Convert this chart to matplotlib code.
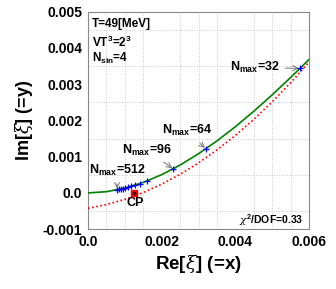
import numpy as np
import matplotlib
matplotlib.use('Agg')
import matplotlib.pyplot as plt

plt.rcParams['font.family'] = ['Liberation Sans', 'DejaVu Sans']
plt.rcParams['mathtext.fontset'] = 'custom'
plt.rcParams['mathtext.rm'] = 'Liberation Sans:bold'
plt.rcParams['mathtext.bf'] = 'Liberation Sans:bold'
plt.rcParams['mathtext.it'] = 'DejaVu Serif:italic'

#fit curve (green)
fit_x = [0.0, 0.0005, 0.001, 0.0015, 0.002, 0.0025, 0.003,
         0.0035, 0.004, 0.0045, 0.005, 0.0055, 0.006]
fit_y = [0.0, 0.000034, 0.000132, 0.00029, 0.000504, 0.000769, 0.001081,
         0.001435, 0.001827, 0.002252, 0.002706, 0.003184, 0.003682]

#second curve (red dotted)
red_y = [-0.000425, -0.000322, -0.000177, 0.0000105, 0.000241, 0.000513, 0.000828,
         0.001186, 0.001585, 0.002028, 0.002513, 0.00304, 0.003609]

#data points (blue +)
pts_x = [0.000787, 0.000842, 0.000896, 0.00095, 0.001005, 0.001086, 0.001167,
         0.001276, 0.001412, 0.001602, 0.002316, 0.003195, 0.005756]
pts_y = [0.0000825, 0.0000943, 0.000106, 0.000119, 0.000133, 0.000155, 0.000178,
         0.000212, 0.000258, 0.00033, 0.000658, 0.001214, 0.003436]

#critical point
cp_x = 0.00126
cp_y = 0.00001
cp_xerr = 0.00009

labels = ['512', '96', '64', '32']
label_idx = [0, 10, 11, 12]

fig = plt.figure(figsize=(3.36, 2.89), dpi=100)
ax = fig.add_axes([0.262, 0.207, 0.658, 0.753])

ax.plot(fit_x, fit_y, color='#008000', lw=1.2, zorder=3)
ax.plot(fit_x, red_y, color='red', lw=1.2, ls=(0, (1, 1.5)), zorder=3)
ax.plot(pts_x, pts_y, '+', color='blue', ms=5, mew=0.9, zorder=4)
ax.errorbar([cp_x], [cp_y], xerr=[cp_xerr], fmt='s', color='red', ms=4, elinewidth=0.8, capsize=0, zorder=5)
ax.plot([cp_x], [cp_y], 'o', color='#400000', ms=1.8, zorder=6)

ax.set_xlim(0, 0.006)
ax.set_ylim(-0.001, 0.005)
ax.set_xticks([0.0, 0.002, 0.004, 0.006])
ax.set_xticklabels(['0.0', '0.002', '0.004', '0.006'])
ax.set_yticks([-0.001, 0.0, 0.001, 0.002, 0.003, 0.004, 0.005])
ax.set_yticklabels(['-0.001', '0.0', '0.001', '0.002', '0.003', '0.004', '0.005'])
ax.set_xticks(np.arange(0, 0.0061, 0.0005), minor=True)
ax.set_yticks(np.arange(-0.001, 0.0051, 0.0005), minor=True)
ax.grid(which='minor', color='#c8c8c8', ls=':', lw=0.7)
ax.tick_params(which='both', length=0, labelsize=10, pad=4)
for t in ax.get_xticklabels() + ax.get_yticklabels():
    t.set_fontweight('bold')
for s in ax.spines.values():
    s.set_color('#888888')
    s.set_linewidth(0.8)

ax.set_xlabel(r'Re[$\xi$] (=x)', fontsize=13.5, fontweight='bold', labelpad=3)
ax.set_ylabel(r'Im[$\xi$] (=y)', fontsize=13, fontweight='bold', labelpad=6)

ax.text(0.0001, 0.00465, 'T=49[MeV]', fontsize=8.5, fontweight='bold', va='center')
ax.text(0.0001, 0.00415, r'VT$^3$=2$^3$', fontsize=8.5, fontweight='bold', va='center')
ax.text(0.0001, 0.0037, r'N$_{\mathrm{sin}}$=4', fontsize=8.5, fontweight='bold', va='center')
ax.text(0.00583, -0.00075, r'$\chi^2$/DOF=0.33', fontsize=7.5, fontweight='bold', ha='right', va='center')

arrow = dict(arrowstyle='->', color='#777777', lw=0.7, shrinkA=2, shrinkB=1)
text_pos = [(0.00079, 0.00061), (0.0016, 0.00118), (0.00269, 0.00171), (0.00453, 0.00345)]
for lab, i, pos in zip(labels, label_idx, text_pos):
    ax.annotate(r'N$_{\mathrm{max}}$=' + lab, xy=(pts_x[i], pts_y[i]), xytext=pos,
                fontsize=9, fontweight='bold', ha='center', va='center', arrowprops=arrow)

ax.text(0.00128, -0.00028, 'CP', fontsize=9, fontweight='bold', ha='center', va='center')

fig.savefig('out.png', dpi=100)
